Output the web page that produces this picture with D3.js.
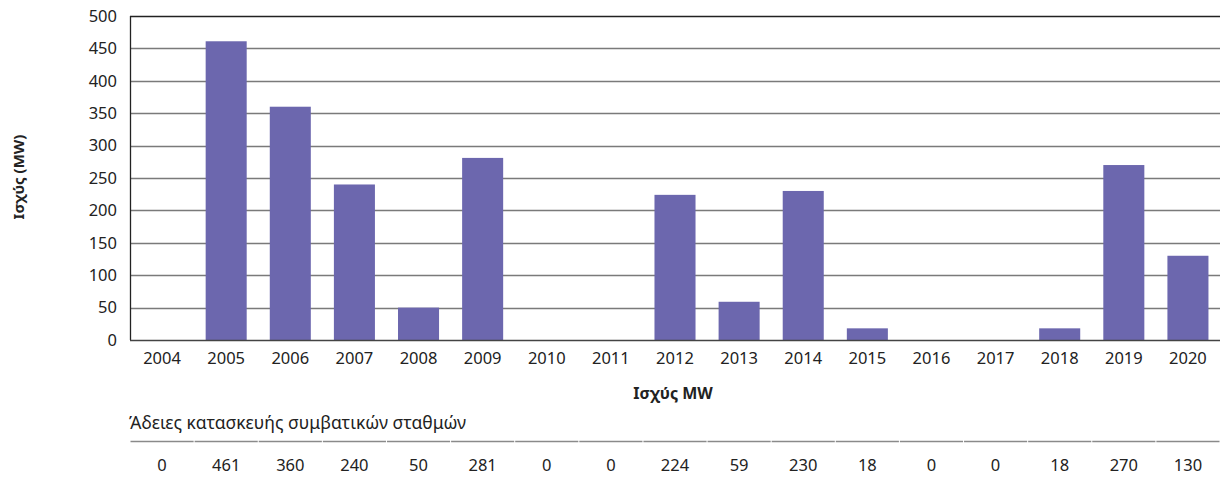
<!DOCTYPE html>
<html>
<head>
<meta charset="utf-8">
<script src="https://cdn.jsdelivr.net/npm/d3@7"></script>
<style>
  body { margin: 0; background: #fff; }
  svg { font-family: "Noto Sans", "Open Sans", sans-serif; }
</style>
</head>
<body>
<div id="chart"></div>
<script>
const years = ['2004', '2005', '2006', '2007', '2008', '2009', '2010', '2011', '2012',
  '2013', '2014', '2015', '2016', '2017', '2018', '2019', '2020'];
const power = [0, 461, 360, 240, 50, 281, 0, 0, 224, 59, 230, 18, 0, 0, 18, 270, 130];
const yTicks = [0, 50, 100, 150, 200, 250, 300, 350, 400, 450, 500];
const seriesName = 'Άδειες κατασκευής συμβατικών σταθμών';
const yTitle = 'Ισχύς (MW)';
const xTitle = 'Ισχύς MW';

const width = 1220, height = 479;
const margin = {left: 130, right: 1220, top: 16, bottom: 340};

const svg = d3.select('#chart').append('svg')
  .attr('width', width)
  .attr('height', height);

const x = d3.scaleBand()
  .domain(years)
  .range([margin.left, margin.right])
  .paddingInner(0.36)
  .paddingOuter(0.18);

const y = d3.scaleLinear()
  .domain([0, 500])
  .range([margin.bottom, margin.top]);

// gridlines
svg.append('g')
  .selectAll('line')
  .data(yTicks.filter(d => d > 0))
  .join('line')
    .attr('x1', margin.left)
    .attr('x2', margin.right)
    .attr('y1', d => Math.round(y(d)) + 0.5)
    .attr('y2', d => Math.round(y(d)) + 0.5)
    .attr('stroke', d => d === 500 ? '#222' : '#7a7a7a')
    .attr('stroke-width', 1.3);

// bars
svg.append('g')
  .selectAll('rect')
  .data(power)
  .join('rect')
    .attr('x', (d, i) => x(years[i]))
    .attr('y', d => y(d))
    .attr('width', x.bandwidth())
    .attr('height', d => y(0) - y(d))
    .attr('fill', '#6c67ae');

// axes lines
svg.append('line')
  .attr('x1', margin.left + 0.5).attr('x2', margin.left + 0.5)
  .attr('y1', margin.top).attr('y2', margin.bottom)
  .attr('stroke', '#222').attr('stroke-width', 1.3);
svg.append('line')
  .attr('x1', margin.left).attr('x2', margin.right)
  .attr('y1', margin.bottom + 0.5).attr('y2', margin.bottom + 0.5)
  .attr('stroke', '#444').attr('stroke-width', 1.5);

// y tick labels
svg.append('g')
  .selectAll('text')
  .data(yTicks)
  .join('text')
    .attr('x', 117)
    .attr('y', d => y(d))
    .attr('dy', '0.35em')
    .attr('text-anchor', 'end')
    .attr('font-size', 16.5)
    .attr('fill', '#222')
    .text(d => d);

// x tick labels
svg.append('g')
  .selectAll('text')
  .data(years)
  .join('text')
    .attr('x', d => x(d) + x.bandwidth() / 2)
    .attr('y', 358)
    .attr('dy', '0.35em')
    .attr('text-anchor', 'middle')
    .attr('font-size', 16.5)
    .attr('fill', '#222')
    .text(d => d);

// axis titles
svg.append('text')
  .attr('transform', 'translate(19,177) rotate(-90)')
  .attr('dy', '0.35em')
  .attr('text-anchor', 'middle')
  .attr('font-size', 15)
  .attr('font-weight', 'bold')
  .attr('fill', '#222')
  .text(yTitle);

svg.append('text')
  .attr('x', 673)
  .attr('y', 393)
  .attr('dy', '0.35em')
  .attr('text-anchor', 'middle')
  .attr('font-size', 16)
  .attr('font-weight', 'bold')
  .attr('fill', '#222')
  .text(xTitle);

// data table
svg.append('text')
  .attr('x', margin.left - 1)
  .attr('y', 423)
  .attr('dy', '0.35em')
  .attr('font-size', 17.5)
  .attr('fill', '#222')
  .text(seriesName);

const step = x.step();
svg.append('g')
  .selectAll('line')
  .data(years)
  .join('line')
    .attr('x1', d => x(d) + x.bandwidth() / 2 - step / 2 + 0.5)
    .attr('x2', d => x(d) + x.bandwidth() / 2 + step / 2 - 0.5)
    .attr('y1', 441.5)
    .attr('y2', 441.5)
    .attr('stroke', '#8a8a8a')
    .attr('stroke-width', 1.5);

svg.append('g')
  .selectAll('text')
  .data(power)
  .join('text')
    .attr('x', (d, i) => x(years[i]) + x.bandwidth() / 2)
    .attr('y', 465)
    .attr('dy', '0.35em')
    .attr('text-anchor', 'middle')
    .attr('font-size', 16.5)
    .attr('fill', '#222')
    .text(d => d);
</script>
</body>
</html>
